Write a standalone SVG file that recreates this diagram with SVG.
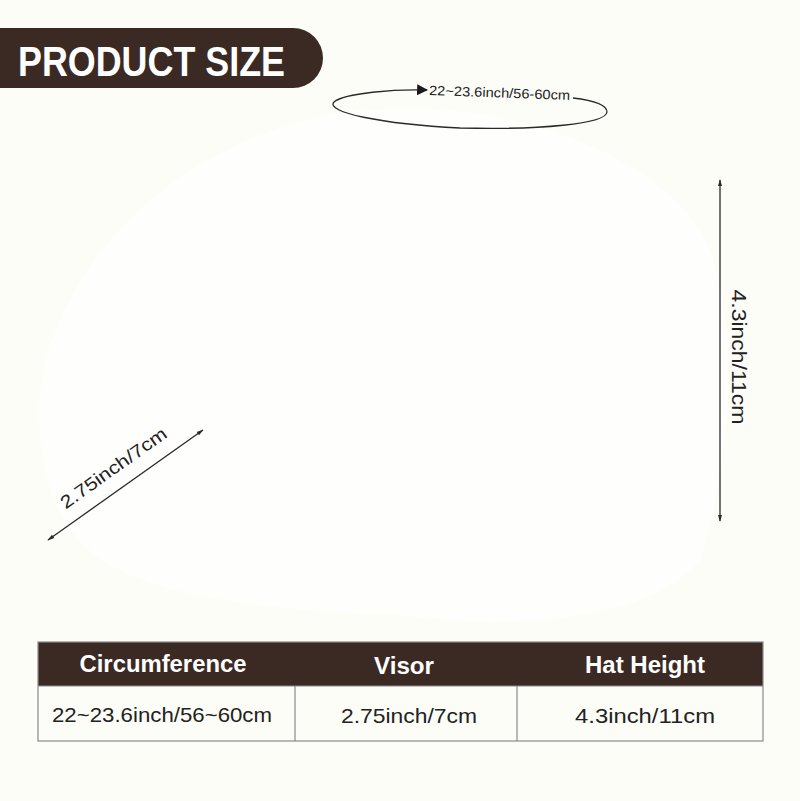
<svg xmlns="http://www.w3.org/2000/svg" width="800" height="801" viewBox="0 0 800 801">
<style>
.dim{fill:none;stroke:#2a2a2a;stroke-width:1.3}
.lbl{font-family:"Liberation Sans",Arial,sans-serif;fill:#222}
.hd{font-family:"Liberation Sans",Arial,sans-serif;font-weight:bold;fill:#fff;text-anchor:middle;font-size:23px}
.cell{font-family:"Liberation Sans",Arial,sans-serif;fill:#222;text-anchor:middle;font-size:21px}
.grid{stroke:#8a8a8a;stroke-width:1.2;fill:none}
</style>
<defs>
<marker id="ah" viewBox="0 0 10 10" refX="9" refY="5" markerWidth="7" markerHeight="7" orient="auto-start-reverse" markerUnits="userSpaceOnUse">
<path d="M0,2 L10,5 L0,8 Z" fill="#2a2a2a"/>
</marker>
<marker id="tri" viewBox="0 0 10 10" refX="9" refY="5" markerWidth="11" markerHeight="11" orient="auto" markerUnits="userSpaceOnUse">
<path d="M0,0 L10,5 L0,10 Z" fill="#1a1a1a"/>
</marker>
</defs>
<rect width="800" height="801" fill="#fdfdf8"/>
<g id="hat">
<path d="M40,430 C30,300 150,150 330,115 C470,90 640,140 700,230 C740,300 735,450 700,560 C650,620 520,630 400,615 C280,610 180,600 120,570 C60,540 45,490 40,430 Z" fill="#fefefc"/>
</g>
<g id="title">
<path d="M0,28 H293 A30,30 0 0 1 293,88 H0 Z" fill="#3b2a24"/>
<text x="18" y="76" font-family="Liberation Sans,Arial,sans-serif" font-weight="bold" font-size="43" fill="#fff" textLength="267" lengthAdjust="spacingAndGlyphs">PRODUCT SIZE</text>
</g>
<g id="connectors">
<path class="dim" d="M573,98 C590,100 607,104 607,112 C606,124 540,130 460,128 C380,124 325,112 334,102 C345,93 395,89 427,90" marker-end="url(#tri)"/>
<line class="dim" x1="720" y1="180" x2="720" y2="521" marker-start="url(#ah)" marker-end="url(#ah)"/>
<line class="dim" x1="48" y1="540" x2="203" y2="430" marker-start="url(#ah)" marker-end="url(#ah)"/>
</g>
<g id="labels">
<text class="lbl" font-size="13.5" x="429" y="95" transform="rotate(2 429 95)" textLength="141" lengthAdjust="spacingAndGlyphs">22~23.6inch/56-60cm</text>
<text class="lbl" font-size="21" text-anchor="middle" transform="translate(732 357) rotate(90)" textLength="135" lengthAdjust="spacingAndGlyphs">4.3inch/11cm</text>
<text class="lbl" font-size="18" text-anchor="middle" transform="translate(117 473) rotate(-35.4)" textLength="126" lengthAdjust="spacingAndGlyphs">2.75inch/7cm</text>
</g>
<g id="table">
<rect x="38" y="642" width="725" height="44" fill="#3b2a24"/>
<rect class="grid" x="38" y="642" width="725" height="99"/>
<line class="grid" x1="38" y1="686" x2="763" y2="686"/>
<line class="grid" x1="295" y1="686" x2="295" y2="741"/>
<line class="grid" x1="517" y1="686" x2="517" y2="741"/>
<text class="hd" x="163" y="672" textLength="167" lengthAdjust="spacingAndGlyphs">Circumference</text>
<text class="hd" x="404" y="674" textLength="60" lengthAdjust="spacingAndGlyphs">Visor</text>
<text class="hd" x="645" y="673" textLength="120" lengthAdjust="spacingAndGlyphs">Hat Height</text>
<text class="cell" x="162" y="722" textLength="220" lengthAdjust="spacingAndGlyphs">22~23.6inch/56~60cm</text>
<text class="cell" x="409" y="723" textLength="136" lengthAdjust="spacingAndGlyphs">2.75inch/7cm</text>
<text class="cell" x="645" y="723" textLength="140" lengthAdjust="spacingAndGlyphs">4.3inch/11cm</text>
</g>
</svg>
